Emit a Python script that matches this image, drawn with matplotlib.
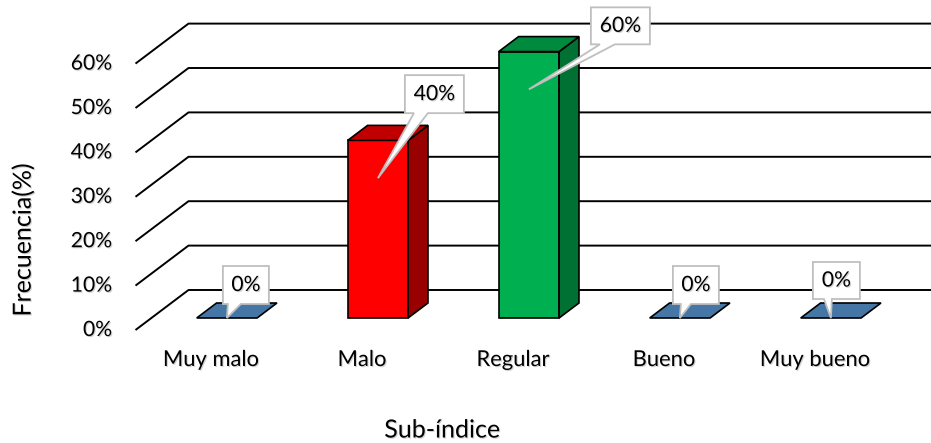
import matplotlib
matplotlib.use("Agg")
import matplotlib.pyplot as plt
import matplotlib.patheffects as pe
from matplotlib.patches import Polygon
from matplotlib.transforms import ScaledTranslation

# ---- data ----
categories = ["Muy malo", "Malo", "Regular", "Bueno", "Muy bueno"]
values = [0, 40, 60, 0, 0]          # frecuencia (%)
y_ticks = [0, 10, 20, 30, 40, 50, 60]
tick_labels = ["0%", "10%", "20%", "30%", "40%", "50%", "60%"]

# ---- style ----
front_colors = ["#4676A5", "#FF0000", "#00B050", "#4676A5", "#4676A5"]
top_colors = ["#4676A5", "#C00000", "#008A3E", "#4676A5", "#4676A5"]
side_colors = ["#3A6690", "#990000", "#007033", "#3A6690", "#3A6690"]

FONT = "Lato"
FS_TICK = 15.2
FS_CAT = 15.8
FS_TITLE = 18.0
FS_CALL = 15.2
plt.rcParams["font.family"] = [FONT, "DejaVu Sans"]

# soft drop shadow behind the text
SHADOW = [pe.SimplePatchShadow(offset=(0.8, -0.8), shadow_rgbFace="#808080",
                               alpha=0.35), pe.Normal()]

W, H, DPI = 931, 443, 100
fig = plt.figure(figsize=(W / DPI, H / DPI), dpi=DPI)
ax = fig.add_axes([0, 0, 1, 1])
ax.set_axis_off()

# one category step = 151 px, 10 % = 44.4 px
X0, XSTEP = 211.0, 151.0
Y0, YSTEP = 113.0, 4.44
ax.set_xlim((0 - X0) / XSTEP, (W - X0) / XSTEP)
ax.set_ylim((0 - Y0) / YSTEP, (H - Y0) / YSTEP)

# depth vector of the floor (oblique projection)
DX, DV = 53 / XSTEP, 40 / YSTEP
D_FRONT, D_BACK = 0.30, 0.675   # bar depth range within the floor
BAR_W = 0.40

x_left = -0.5
x_right = len(categories) - 0.5 + DX + 0.5

# gridlines: diagonal side wall + horizontal back wall
for t, lab in zip(y_ticks, tick_labels):
    ax.plot([x_left, x_left + DX, x_right], [t, t + DV, t + DV],
            color="black", lw=1.4, solid_capstyle="butt", zorder=1)
    ax.text(x_left - 0.155, t, lab, ha="right", va="center",
            fontsize=FS_TICK, color="black", path_effects=SHADOW)

# bars
for i, v in enumerate(values):
    fx, fv = i + D_FRONT * DX, D_FRONT * DV
    bx_off, bv_off = (D_BACK - D_FRONT) * DX, (D_BACK - D_FRONT) * DV
    xl, xr = fx - BAR_W / 2, fx + BAR_W / 2
    yb, yt = fv, fv + v
    kw = dict(edgecolor="black", lw=1.2, joinstyle="miter", zorder=3)
    if v > 0:
        ax.add_patch(Polygon([(xl, yb), (xr, yb), (xr, yt), (xl, yt)],
                             facecolor=front_colors[i], **kw))
        ax.add_patch(Polygon([(xr, yb), (xr + bx_off, yb + bv_off),
                              (xr + bx_off, yt + bv_off), (xr, yt)],
                             facecolor=side_colors[i], **kw))
    ax.add_patch(Polygon([(xl, yt), (xr, yt), (xr + bx_off, yt + bv_off),
                          (xl + bx_off, yt + bv_off)],
                         facecolor=top_colors[i], **kw))

# category labels and axis titles
for i, c in enumerate(categories):
    ax.text(i, (443 - 360 - Y0) / YSTEP, c, ha="center", va="center",
            fontsize=FS_CAT, color="black", path_effects=SHADOW)
ax.text(442 / W, 1 - 430 / 443, "Sub-índice", transform=ax.transAxes,
        ha="center", va="center", fontsize=FS_TITLE, color="black",
        path_effects=SHADOW)
ax.text(23 / W, 1 - 240 / 443, "Frecuencia(%)", transform=ax.transAxes,
        ha="center", va="center", rotation=90, fontsize=FS_TITLE,
        color="black", path_effects=SHADOW)

# callout boxes (pixel offsets from the pointer tip: box x0, x1, y0, y1, tail b0, b1)
callouts = [
    (-4, 42, 14, 52, 1, 14),
    (27, 86, 65, 103, 36, 50),
    (62, 121, 45, 82, 71, 86),
    (-7, 39, 14, 52, 1, 11),
    (-18, 29, 19, 56, -7, 1),
]
for i, v in enumerate(values):
    tip_x = i + D_FRONT * DX
    tip_v = max(v - 8.5, 0) + D_FRONT * DV
    trans = fig.dpi_scale_trans + ScaledTranslation(tip_x, tip_v, ax.transData)
    x0, x1, y0, y1, b0, b1 = callouts[i]
    pts = [(x0, y0), (b0, y0), (0, 0), (b1, y0), (x1, y0), (x1, y1), (x0, y1)]
    ax.add_patch(Polygon([(px / DPI, py / DPI) for px, py in pts],
                         closed=True, transform=trans, facecolor="white",
                         edgecolor="#BFBFBF", lw=1.3, zorder=5))
    ax.text((x0 + x1) / 2 / DPI, (y0 + y1) / 2 / DPI, f"{v}%",
            transform=trans, ha="center", va="center", fontsize=FS_CALL,
            color="black", zorder=6, path_effects=SHADOW)

fig.savefig("out.png", dpi=DPI)
